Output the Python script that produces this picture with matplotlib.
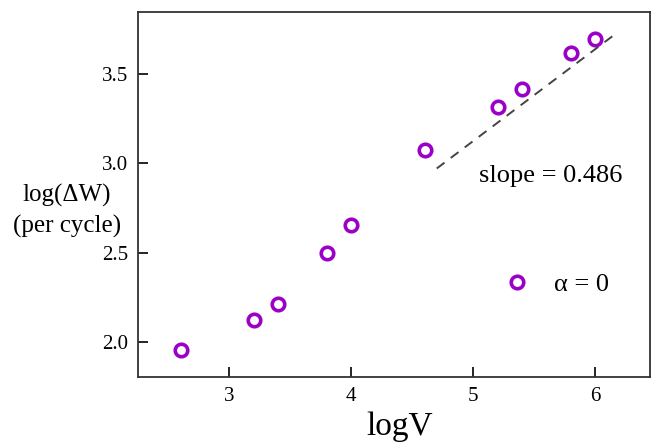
import numpy as np
import matplotlib.pyplot as plt

plt.rcParams['font.family'] = ['Liberation Serif', 'DejaVu Serif']

log_v = [2.6, 3.2, 3.4, 3.8, 4.0, 4.6, 5.2, 5.4, 5.8, 6.0]
log_dw = [1.955, 2.124, 2.213, 2.50, 2.657, 3.073, 3.315, 3.42, 3.618, 3.70]

fit_x = [4.70, 6.16]
fit_y = [2.972, 3.725]

purple = '#9b00c8'

fig, ax = plt.subplots(figsize=(6.69, 4.48), dpi=100)
fig.subplots_adjust(left=0.206, right=0.972, top=0.973, bottom=0.158)

ax.plot(log_v, log_dw, 'o', ms=9, mfc='white', mec=purple, mew=2.6,
        linestyle='none', label='α = 0')
ax.plot(fit_x, fit_y, '--', color='#444444', lw=1.4, dashes=(5, 4))

ax.text(5.63, 2.93, 'slope = 0.486', fontsize=19, ha='center', va='center')

ax.set_xlim(2.25, 6.45)
ax.set_ylim(1.80, 3.85)
ax.set_xticks([3, 4, 5, 6])
ax.set_yticks([2.0, 2.5, 3.0, 3.5])
ax.tick_params(direction='in', labelsize=15, length=7, width=1.2, pad=7)
for sp in ax.spines.values():
    sp.set_linewidth(1.3)
    sp.set_color('#333333')

ax.set_xlabel('logV', fontsize=24, labelpad=4, x=0.511)
fig.text(0.100, 0.549, 'log(ΔW)', fontsize=18, ha='center', va='baseline')
fig.text(0.100, 0.481, '(per cycle)', fontsize=18, ha='center', va='baseline')

ax.legend(loc='center left', bbox_to_anchor=(0.715, 0.255), frameon=False,
          fontsize=19, borderpad=0, borderaxespad=0, handlelength=1.0,
          handletextpad=0.9)

fig.savefig('out.png', dpi=100)
